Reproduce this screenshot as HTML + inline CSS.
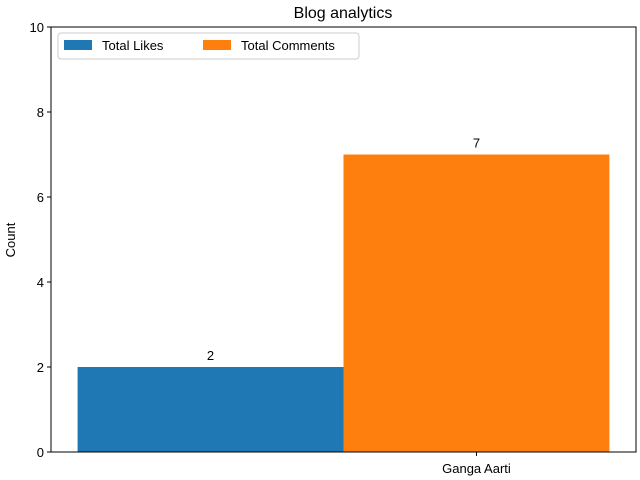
<!DOCTYPE html>
<html><head><meta charset="utf-8"><style>
body{margin:0;background:#fff;}
svg{display:block;font-family:"Liberation Sans","DejaVu Sans",sans-serif;}
</style></head><body>
<svg id="chart" width="640" height="480">
<rect width="640" height="480" fill="#fff"/>
<text x="343" y="18" text-anchor="middle" font-size="16">Blog analytics</text>
<g id="bars"></g>
<g id="yticks"></g>
<g id="xticks"></g>
<rect x="51" y="27" width="585" height="425" fill="none" stroke="#000" stroke-width="1"/>
<text transform="translate(15,240) rotate(-90)" text-anchor="middle" font-size="13">Count</text>
<g>
<rect x="58" y="33" width="301" height="26" fill="#fff" stroke="#ccc" rx="3"/>
<rect x="64" y="40" width="28" height="10" fill="#1f77b4"/>
<text x="102" y="50" font-size="13">Total Likes</text>
<rect x="203" y="40" width="28" height="10" fill="#ff7f0e"/>
<text x="241" y="50" font-size="13">Total Comments</text>
</g>
</svg>
<script>
const categories = ["Ganga Aarti"];
const seriesNames = ["Total Likes", "Total Comments"];
const likes = [2];
const comments = [7];
const yTicks = [0, 2, 4, 6, 8, 10];
const NS = "http://www.w3.org/2000/svg";
const L=51,R=636,T=27,B=452;
function xs(v){return L+(v+0.6)/2.2*(R-L);}
function ys(v){return B-v/10*(B-T);}
function mk(tag,attrs,parent){const e=document.createElementNS(NS,tag);for(const k in attrs)e.setAttribute(k,attrs[k]);parent.appendChild(e);return e;}
const bars=document.getElementById('bars');
const series=[likes,comments], colors=["#1f77b4","#ff7f0e"];
categories.forEach((c,i)=>{
  series.forEach((s,j)=>{
    const cx=i*2+j;
    const r=mk('rect',{x:xs(cx-0.5),y:ys(s[i]),width:xs(cx+0.5)-xs(cx-0.5),height:ys(0)-ys(s[i]),fill:colors[j]},bars);
    
    
    const t=mk('text',{x:xs(cx),y:ys(s[i])-7,'text-anchor':'middle','font-size':13},bars);
    t.textContent=s[i];
    
    
  });
});
const yg=document.getElementById('yticks');
yTicks.forEach(v=>{
  const l=mk('line',{x1:L-4,x2:L,y1:ys(v),y2:ys(v),stroke:'#000'},yg);
  
  
  const t=mk('text',{x:L-7,y:ys(v)+5,'text-anchor':'end','font-size':13},yg);
  t.textContent=v;
  
  
});
const xg=document.getElementById('xticks');
categories.forEach((c,i)=>{
  const x=xs(i*2+1);
  const l=mk('line',{x1:x,x2:x,y1:B,y2:B+4,stroke:'#000'},xg);
  
  
  const t=mk('text',{x:x,y:B+21,'text-anchor':'middle','font-size':13},xg);
  t.textContent=c;
  
  
});
</script>
</body></html>
